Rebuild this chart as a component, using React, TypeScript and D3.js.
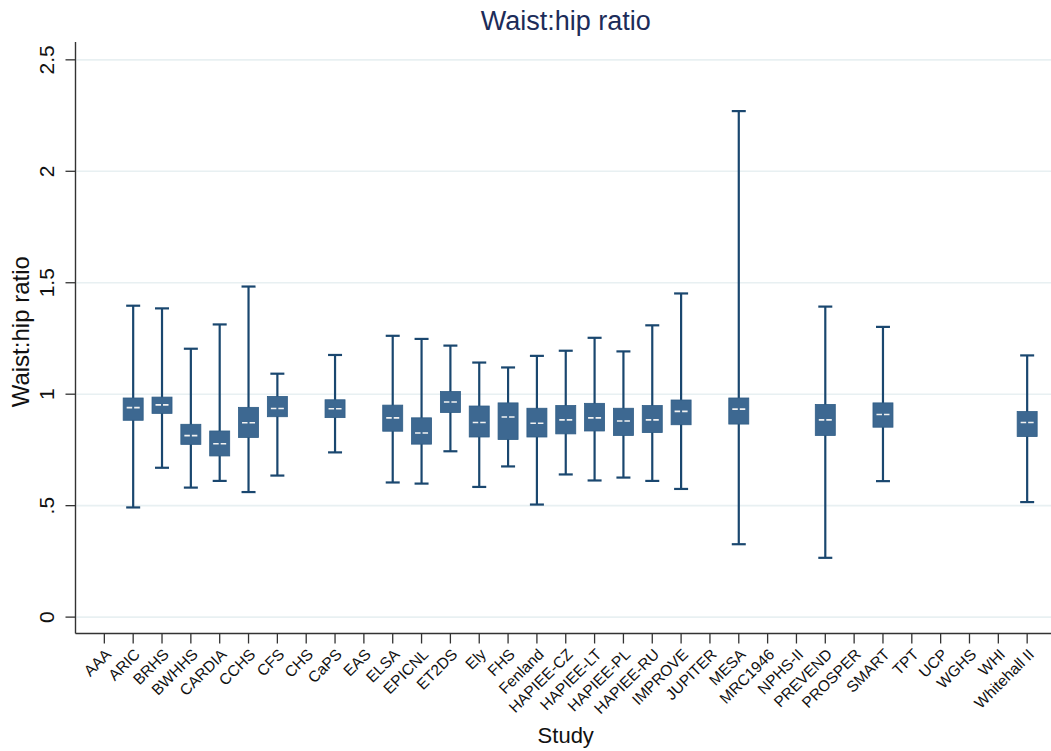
import React from "react";
import * as d3 from "d3";

// Studies along the x axis
const studies = [
  "AAA", "ARIC", "BRHS", "BWHHS", "CARDIA", "CCHS", "CFS", "CHS", "CaPS", "EAS",
  "ELSA", "EPICNL", "ET2DS", "Ely", "FHS", "Fenland", "HAPIEE-CZ", "HAPIEE-LT",
  "HAPIEE-PL", "HAPIEE-RU", "IMPROVE", "JUPITER", "MESA", "MRC1946", "NPHS-II",
  "PREVEND", "PROSPER", "SMART", "TPT", "UCP", "WGHS", "WHI", "Whitehall II",
];

// Box-plot summaries per study (null = no waist:hip data)
const lowerWhisker = [
  null, 0.492, 0.670, 0.581, 0.611, 0.561, 0.635, null, 0.739, null,
  0.604, 0.599, 0.744, 0.584, 0.676, 0.505, 0.640, 0.613,
  0.626, 0.611, 0.575, null, 0.327, null, null,
  0.266, null, 0.610, null, null, null, null, 0.516,
];
const lowerQuartile = [
  null, 0.883, 0.914, 0.775, 0.723, 0.806, 0.899, null, 0.895, null,
  0.834, 0.776, 0.918, 0.808, 0.797, 0.808, 0.822, 0.835,
  0.815, 0.828, 0.863, null, 0.866, null, null,
  0.815, null, 0.852, null, null, null, null, 0.810,
];
const median = [
  null, 0.940, 0.952, 0.814, 0.778, 0.872, 0.936, null, 0.935, null,
  0.894, 0.826, 0.965, 0.873, 0.898, 0.870, 0.885, 0.894,
  0.880, 0.885, 0.923, null, 0.933, null, null,
  0.885, null, 0.909, null, null, null, null, 0.873,
];
const upperQuartile = [
  null, 0.983, 0.987, 0.865, 0.835, 0.941, 0.990, null, 0.975, null,
  0.951, 0.894, 1.012, 0.947, 0.961, 0.937, 0.949, 0.959,
  0.937, 0.949, 0.974, null, 0.983, null, null,
  0.954, null, 0.961, null, null, null, null, 0.922,
];
const upperWhisker = [
  null, 1.397, 1.385, 1.204, 1.313, 1.483, 1.092, null, 1.176, null,
  1.262, 1.248, 1.218, 1.142, 1.120, 1.172, 1.195, 1.253,
  1.192, 1.309, 1.452, null, 2.270, null, null,
  1.393, null, 1.302, null, null, null, null, 1.174,
];

const yTicks = [0, 0.5, 1, 1.5, 2, 2.5];
const yTickLabels = ["0", ".5", "1", "1.5", "2", "2.5"];

const W = 1051;
const H = 751;
const FONT = "'Liberation Sans', Arial, sans-serif";
const NAVY = "#1a476f";
const BOX_FILL = "#3d6891";

export default function App() {
  const left = 75.5;
  const right = 1056;
  const top = 42;
  const bottom = 633.5;

  const x = d3.scaleLinear().domain([0, studies.length + 1]).range([left, right]);
  const y = d3.scaleLinear().domain([-0.0735, 2.58]).range([bottom, top]);

  const boxW = 20;
  const capW = 14;

  return (
    <svg
      width={W}
      height={H}
      style={{ position: "absolute", left: 0, top: 0, background: "#fff" }}
      fontFamily={FONT}
    >
      <rect x={0} y={0} width={W} height={H} fill="#ffffff" />

      {/* title */}
      <text x={(left + right) / 2} y={30} textAnchor="middle" fontSize={27} fill="#1c2c59">
        Waist:hip ratio
      </text>

      {/* horizontal grid */}
      {yTicks.map((t) => (
        <line key={"g" + t} x1={left + 1} x2={right} y1={y(t)} y2={y(t)} stroke="#e8f0f2" strokeWidth={1.6} />
      ))}

      {/* y axis */}
      <line x1={left} x2={left} y1={top} y2={bottom} stroke="#333" strokeWidth={1.4} />
      {yTicks.map((t, i) => (
        <g key={"yt" + t} transform={`translate(${left},${y(t)})`}>
          <line x1={-10} x2={0} stroke="#333" strokeWidth={1.3} />
          <text
            transform="translate(-29,0) rotate(-90)"
            textAnchor="middle"
            dy="0.36em"
            fontSize={21}
            fill="#111"
          >
            {yTickLabels[i]}
          </text>
        </g>
      ))}
      <text
        transform={`translate(29,${(top + bottom) / 2 - 6}) rotate(-90)`}
        textAnchor="middle"
        fontSize={24}
        fill="#111"
      >
        Waist:hip ratio
      </text>

      {/* x axis */}
      <line x1={left} x2={right} y1={bottom} y2={bottom} stroke="#333" strokeWidth={1.4} />
      {studies.map((s, i) => (
        <g key={"xt" + s} transform={`translate(${x(i + 1)},${bottom})`}>
          <line y1={0} y2={10} stroke="#333" strokeWidth={1.3} />
          <text
            transform="translate(4,18) rotate(-45)"
            textAnchor="end"
            dy="0.35em"
            fontSize={15.5}
            fill="#111"
          >
            {s}
          </text>
        </g>
      ))}
      <text x={(left + right) / 2} y={743} textAnchor="middle" fontSize={22} fill="#111">
        Study
      </text>

      {/* box plots */}
      {studies.map((s, i) => {
        const lo = lowerWhisker[i];
        const q1 = lowerQuartile[i];
        const md = median[i];
        const q3 = upperQuartile[i];
        const hi = upperWhisker[i];
        if (lo == null || q1 == null || md == null || q3 == null || hi == null) return null;
        const cx = x(i + 1);
        return (
          <g key={"b" + s}>
            <line x1={cx} x2={cx} y1={y(hi)} y2={y(lo)} stroke={NAVY} strokeWidth={2.2} />
            <line x1={cx - capW / 2} x2={cx + capW / 2} y1={y(hi)} y2={y(hi)} stroke={NAVY} strokeWidth={2.2} />
            <line x1={cx - capW / 2} x2={cx + capW / 2} y1={y(lo)} y2={y(lo)} stroke={NAVY} strokeWidth={2.2} />
            <rect
              x={cx - boxW / 2}
              y={y(q3)}
              width={boxW}
              height={y(q1) - y(q3)}
              fill={BOX_FILL}
              stroke="#2f5d86"
              strokeWidth={0.8}
            />
            <line
              x1={cx - 6.5}
              x2={cx + 6.5}
              y1={y(md)}
              y2={y(md)}
              stroke="#f2f2f2"
              strokeWidth={1.6}
              strokeDasharray="5.5,2"
            />
          </g>
        );
      })}
    </svg>
  );
}
